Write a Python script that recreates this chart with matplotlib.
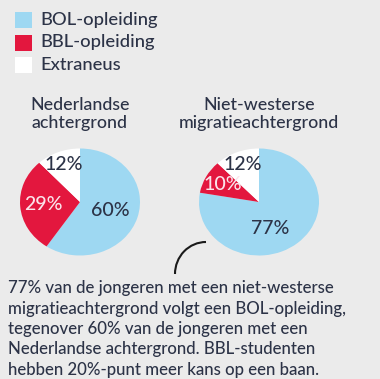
import numpy as np
import matplotlib.pyplot as plt
from matplotlib.patches import Arc, Rectangle

plt.rcParams['font.family'] = ['Lato', 'DejaVu Sans']

# shares per opleiding (BOL, BBL, Extraneus)
categories = ['BOL-opleiding', 'BBL-opleiding', 'Extraneus']
nederlands = [60, 29, 12]
niet_westers = [77, 10, 12]
groups = ['Nederlandse\nachtergrond', 'Niet-westerse\nmigratieachtergrond']

colors = ['#9ed8f2', '#e3173e', '#ffffff']
bg = '#ebebeb'
ink = '#2c3347'

W, H = 380, 379
fig = plt.figure(figsize=(W / 100, H / 100), dpi=100, facecolor=bg)
ax = fig.add_axes([0, 0, 1, 1])
ax.set_xlim(0, W)
ax.set_ylim(H, 0)
ax.axis('off')

# legend
for i, (cat, col) in enumerate(zip(categories, colors)):
    y = 12 + i * 22.5
    ax.add_patch(Rectangle((15, y), 17, 16, color=col, lw=0))
    ax.text(40, y + 8, cat, fontsize=13.2, color=ink, va='center', ha='left',
            fontweight='medium')

# pies, slightly wider than tall
centers = [(80, 202), (259, 202)]
rx, ry = 60, 53.5
label_r = [[0.52, 0.62, 0.76], [0.53, 0.69, 0.75]]
label_shift = [[0, 0, 0], [-19, 0, 0]]
for k, (vals, (cx, cy)) in enumerate(zip([nederlands, niet_westers], centers)):
    pax = fig.add_axes([(cx - rx) / W, (H - cy - ry) / H, 2 * rx / W, 2 * ry / H])
    wedges, _ = pax.pie(vals, colors=colors, startangle=90, counterclock=False,
                        radius=1, wedgeprops=dict(lw=0))
    pax.set_aspect('auto')
    pax.set_xlim(-1, 1)
    pax.set_ylim(-1, 1)
    pax.axis('off')
    for j, (w, v) in enumerate(zip(wedges, vals)):
        ang = np.deg2rad((w.theta1 + w.theta2) / 2 + label_shift[k][j])
        r = label_r[k][j]
        pax.text(r * np.cos(ang), r * np.sin(ang), f'{v}%', fontsize=14,
                 ha='center', va='center', fontweight='medium',
                 color='#fbe3ea' if j == 1 else ink)
    ax.text(cx, 114, groups[k], fontsize=12.8, color=ink, ha='center',
            va='center', linespacing=1.2, fontweight='medium')

# connector arc
ax.add_patch(Arc((206, 274), 62, 64, theta1=180, theta2=270, color='#1a1a1a', lw=1.5))

note = ('77% van de jongeren met een niet-westerse\n'
        'migratieachtergrond volgt een BOL-opleiding,\n'
        'tegenover 60% van de jongeren met een\n'
        'Nederlandse achtergrond. BBL-studenten\n'
        'hebben 20%-punt meer kans op een baan.')
ax.text(8, 329, note, fontsize=12.1, color=ink, ha='left', va='center',
        linespacing=1.34, fontweight='medium')

fig.savefig('out.png', dpi=100, facecolor=bg)
